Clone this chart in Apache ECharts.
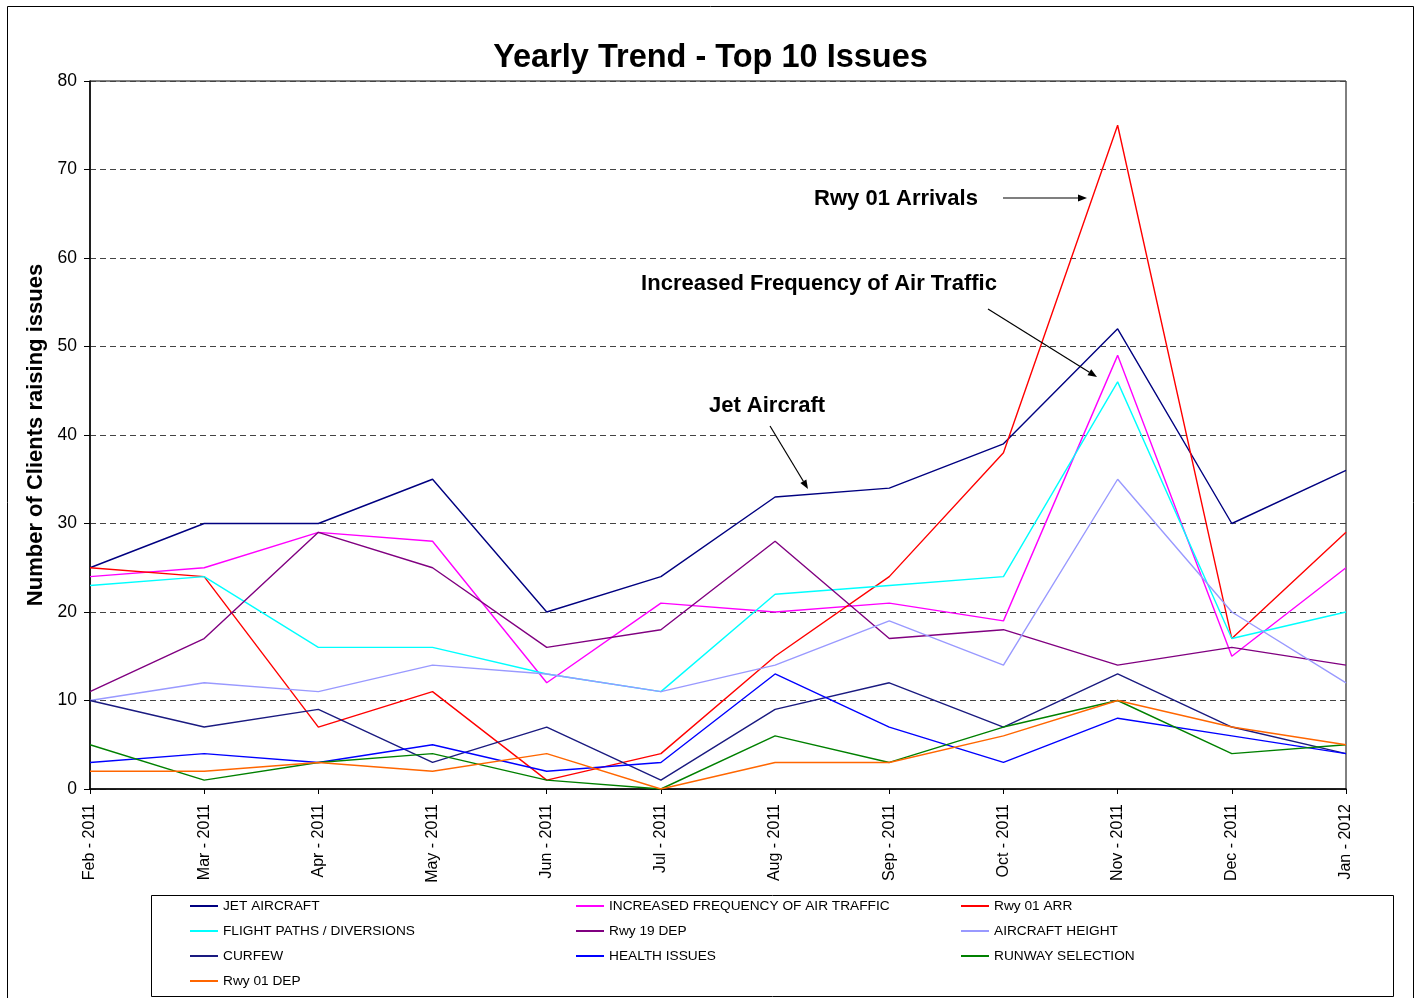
<!DOCTYPE html>
<html><head><meta charset="utf-8">
<script src="https://cdn.jsdelivr.net/npm/echarts@6/dist/echarts.min.js"></script>
<style>html,body{margin:0;padding:0;background:#fff}#c{width:1421px;height:998px}</style>
</head><body><div id="c"></div>
<script>
const months = ['Feb - 2011','Mar - 2011','Apr - 2011','May - 2011','Jun - 2011','Jul - 2011','Aug - 2011','Sep - 2011','Oct - 2011','Nov - 2011','Dec - 2011','Jan - 2012'];
const jetAircraft    = [25,30,30,35,20,24,33,34,39,52,30,36];
const increasedFreq  = [24,25,29,28,12,21,20,21,19,49,15,25];
const rwy01Arr       = [25,24,7,11,1,4,15,24,38,75,17,29];
const flightPaths    = [23,24,16,16,13,11,22,23,24,46,17,20];
const rwy19Dep       = [11,17,29,25,16,18,28,17,18,14,16,14];
const aircraftHeight = [10,12,11,14,13,11,14,19,14,35,20,12];
const curfew         = [10,7,9,3,7,1,9,12,7,13,7,4];
const healthIssues   = [3,4,3,5,2,3,13,7,3,8,6,4];
const runwaySelect   = [5,1,3,4,1,0,6,3,7,10,4,5];
const rwy01Dep       = [2,2,3,2,4,0,3,3,6,10,7,5];

const seriesDefs = [
  ['JET AIRCRAFT', jetAircraft, '#000080'],
  ['INCREASED FREQUENCY OF AIR TRAFFIC', increasedFreq, '#FF00FF'],
  ['Rwy 01 ARR', rwy01Arr, '#FF0000'],
  ['FLIGHT PATHS / DIVERSIONS', flightPaths, '#00FFFF'],
  ['Rwy 19 DEP', rwy19Dep, '#800080'],
  ['AIRCRAFT HEIGHT', aircraftHeight, '#9999FF'],
  ['CURFEW', curfew, '#1A1A80'],
  ['HEALTH ISSUES', healthIssues, '#0000FF'],
  ['RUNWAY SELECTION', runwaySelect, '#008000'],
  ['Rwy 01 DEP', rwy01Dep, '#FF6600']
];

const FONT = 'Liberation Sans, Arial, sans-serif';

function arrow(x1, y1, x2, y2) {
  const ang = Math.atan2(y2 - y1, x2 - x1);
  const L = 9, W = 3.5;
  const bx = x2 - L * Math.cos(ang), by = y2 - L * Math.sin(ang);
  const px = -Math.sin(ang) * W, py = Math.cos(ang) * W;
  return [
    { type: 'line', shape: { x1: x1, y1: y1, x2: bx, y2: by }, style: { stroke: '#000', lineWidth: 1.2 }, z: 100 },
    { type: 'polygon', shape: { points: [[x2, y2], [bx + px, by + py], [bx - px, by - py]] }, style: { fill: '#000' }, z: 100 }
  ];
}

function legendBlock(names, left) {
  return {
    data: names, orient: 'vertical', left: left, top: 899, padding: 0,
    itemGap: 11, itemWidth: 28, itemHeight: 2, icon: 'rect',
    textStyle: { fontFamily: FONT, fontSize: 13.7, color: '#000', lineHeight: 14 }
  };
}

const chart = echarts.init(document.getElementById('c'), null, { renderer: 'canvas' });
chart.setOption({
  backgroundColor: '#fff',
  animation: false,
  title: {
    text: 'Yearly Trend - Top 10 Issues', left: 'center', top: 37,
    textStyle: { fontFamily: FONT, fontSize: 32.5, fontWeight: 'bold', color: '#000' }
  },
  legend: [
    legendBlock(['JET AIRCRAFT', 'FLIGHT PATHS / DIVERSIONS', 'CURFEW', 'Rwy 01 DEP'], 190),
    legendBlock(['INCREASED FREQUENCY OF AIR TRAFFIC', 'Rwy 19 DEP', 'HEALTH ISSUES'], 576),
    legendBlock(['Rwy 01 ARR', 'AIRCRAFT HEIGHT', 'RUNWAY SELECTION'], 961)
  ],
  grid: { left: 90, right: 75, top: 81, bottom: 209, show: true, borderColor: '#000', borderWidth: 1, backgroundColor: 'transparent' },
  xAxis: {
    type: 'category', data: months, boundaryGap: false,
    axisLine: { lineStyle: { color: '#000', width: 1.5 } },
    axisTick: { length: 5, lineStyle: { color: '#000' }, alignWithLabel: true },
    axisLabel: { rotate: 90, margin: 15, fontFamily: FONT, fontSize: 16, color: '#000' },
    splitLine: { show: false }
  },
  yAxis: {
    type: 'value', min: 0, max: 80, interval: 10,
    name: 'Number of Clients raising issues', nameLocation: 'middle', nameGap: 43,
    nameTextStyle: { fontFamily: FONT, fontSize: 22, fontWeight: 'bold', color: '#000' },
    axisLine: { show: true, lineStyle: { color: '#000', width: 1.5 } },
    axisTick: { show: true, length: 6, lineStyle: { color: '#000' } },
    axisLabel: { margin: 13, fontFamily: FONT, fontSize: 17.5, color: '#000' },
    splitLine: { show: true, lineStyle: { color: '#444', type: [6, 4], width: 1 } }
  },
  series: seriesDefs.map(([name, data, color]) => ({
    name: name, type: 'line', data: data, symbol: 'none', showSymbol: false,
    lineStyle: { color: color, width: 1.4 }, itemStyle: { color: color }
  })),
  graphic: [
    { type: 'rect', shape: { x: 7.5, y: 6.5, width: 1406, height: 1010 }, style: { fill: 'none', stroke: '#000', lineWidth: 1 }, z: 0, silent: true },
    { type: 'rect', shape: { x: 151.5, y: 895.5, width: 1242, height: 101 }, style: { fill: 'none', stroke: '#000', lineWidth: 1 }, z: 0, silent: true },
    { type: 'text', x: 896, y: 199, style: { text: 'Rwy 01 Arrivals', font: 'bold 22px ' + FONT, fill: '#000', textAlign: 'center', textVerticalAlign: 'middle' }, z: 100 },
    { type: 'text', x: 819, y: 284, style: { text: 'Increased Frequency of Air Traffic', font: 'bold 22px ' + FONT, fill: '#000', textAlign: 'center', textVerticalAlign: 'middle' }, z: 100 },
    { type: 'text', x: 767, y: 406, style: { text: 'Jet Aircraft', font: 'bold 22px ' + FONT, fill: '#000', textAlign: 'center', textVerticalAlign: 'middle' }, z: 100 },
    ...arrow(1003, 198, 1087, 198),
    ...arrow(988, 309, 1097, 377),
    ...arrow(770, 426, 808, 489)
  ]
});
</script>
</body></html>
